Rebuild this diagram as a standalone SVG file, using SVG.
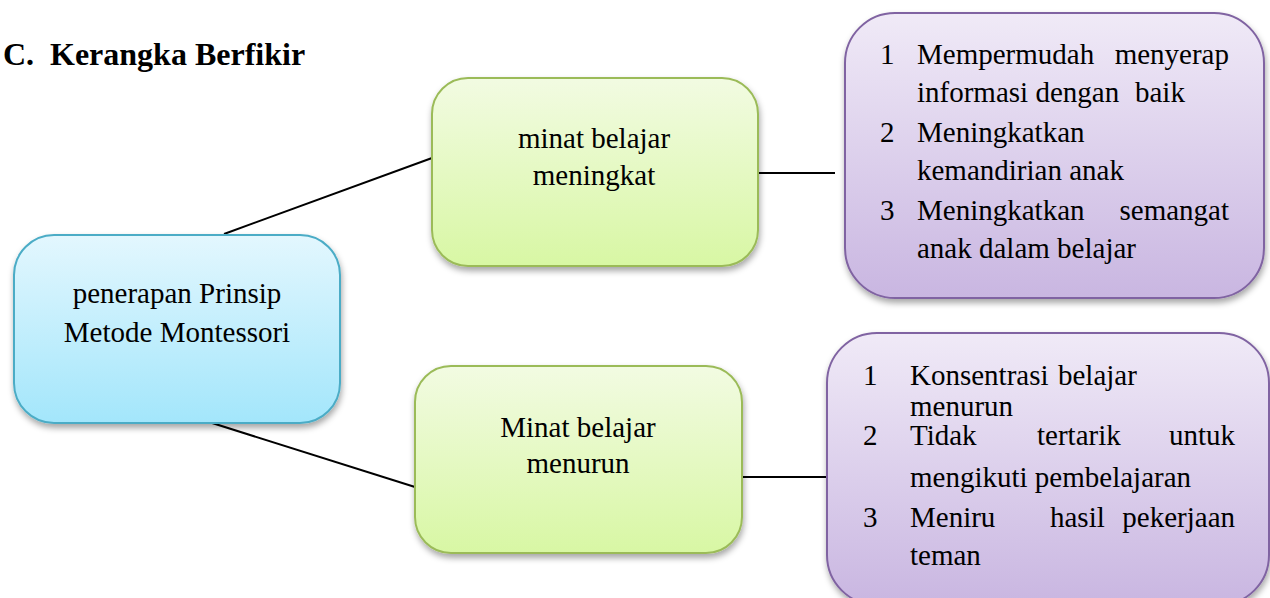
<svg xmlns="http://www.w3.org/2000/svg" width="1270" height="598" viewBox="0 0 1270 598">
<defs>
<linearGradient id="gBlue" x1="0" y1="0" x2="0" y2="1"><stop offset="0" stop-color="#e3f7fe"/><stop offset="1" stop-color="#a3e6fb"/></linearGradient>
<linearGradient id="gGreen" x1="0" y1="0" x2="0" y2="1"><stop offset="0" stop-color="#f2fbe2"/><stop offset="1" stop-color="#d8f7a4"/></linearGradient>
<linearGradient id="gPurple" x1="0" y1="0" x2="0" y2="1"><stop offset="0" stop-color="#f0eaf7"/><stop offset="1" stop-color="#c9b6e1"/></linearGradient>
<filter id="sh" x="-10%" y="-10%" width="125%" height="130%"><feDropShadow dx="1" dy="4" stdDeviation="3" flood-color="#000" flood-opacity="0.35"/></filter>
</defs>
<style>
text{font-family:"Liberation Serif","Times New Roman",serif;font-size:29px;fill:#000}
.c{text-anchor:middle}
.e{text-anchor:end}
.title{font-weight:bold;font-size:32px}
.blue{fill:url(#gBlue);stroke:#4bacc6;stroke-width:2;filter:url(#sh)}
.green{fill:url(#gGreen);stroke:#9bbb59;stroke-width:2;filter:url(#sh)}
.purple{fill:url(#gPurple);stroke:#8064a2;stroke-width:2;filter:url(#sh)}
.conn line{stroke:#000;stroke-width:2}
</style>
<rect width="1270" height="598" fill="#fff"/>
<g id="title">
<text class="title" x="3" y="65">C.</text>
<text class="title" x="50" y="65">Kerangka Berfikir</text>
</g>
<g class="conn" id="connectors">
<line x1="224" y1="234" x2="432" y2="158"/>
<line x1="209" y1="422" x2="415" y2="487"/>
<line x1="758" y1="173" x2="835" y2="173"/>
<line x1="742" y1="477" x2="835" y2="477"/>
</g>
<g id="node-root">
<rect class="blue" x="14" y="235" width="326" height="188" rx="40"/>
<text class="c" x="177" y="303">penerapan Prinsip</text>
<text class="c" x="177" y="342">Metode Montessori</text>
</g>
<g id="node-up">
<rect class="green" x="432" y="78" width="326" height="188" rx="36"/>
<text class="c" x="594" y="148">minat belajar</text>
<text class="c" x="594" y="185">meningkat</text>
</g>
<g id="node-down">
<rect class="green" x="415" y="366" width="327" height="187" rx="36"/>
<text class="c" x="578" y="437">Minat belajar</text>
<text class="c" x="578" y="473">menurun</text>
</g>
<g id="node-up-list">
<rect class="purple" x="845" y="13" width="419" height="285" rx="50"/>
<text x="880" y="64">1</text>
<text x="917" y="64">Mempermudah</text>
<text class="e" x="1229" y="64">menyerap</text>
<text x="917" y="102">informasi dengan</text>
<text x="1135" y="102">baik</text>
<text x="880" y="142">2</text>
<text x="917" y="142">Meningkatkan</text>
<text x="917" y="180">kemandirian anak</text>
<text x="880" y="220">3</text>
<text x="917" y="220">Meningkatkan</text>
<text class="e" x="1229" y="220">semangat</text>
<text x="917" y="258">anak dalam belajar</text>
</g>
<g id="node-down-list">
<rect class="purple" x="827" y="333" width="442" height="272" rx="50"/>
<text x="863" y="385">1</text>
<text x="910" y="385">Konsentrasi</text>
<text x="1058" y="385">belajar</text>
<text x="910" y="416">menurun</text>
<text x="863" y="445">2</text>
<text x="910" y="445">Tidak</text>
<text x="1037" y="445">tertarik</text>
<text class="e" x="1235" y="445">untuk</text>
<text x="910" y="487">mengikuti pembelajaran</text>
<text x="863" y="527">3</text>
<text x="910" y="527">Meniru</text>
<text x="1050" y="527">hasil</text>
<text class="e" x="1235" y="527">pekerjaan</text>
<text x="910" y="565">teman</text>
</g>
</svg>
